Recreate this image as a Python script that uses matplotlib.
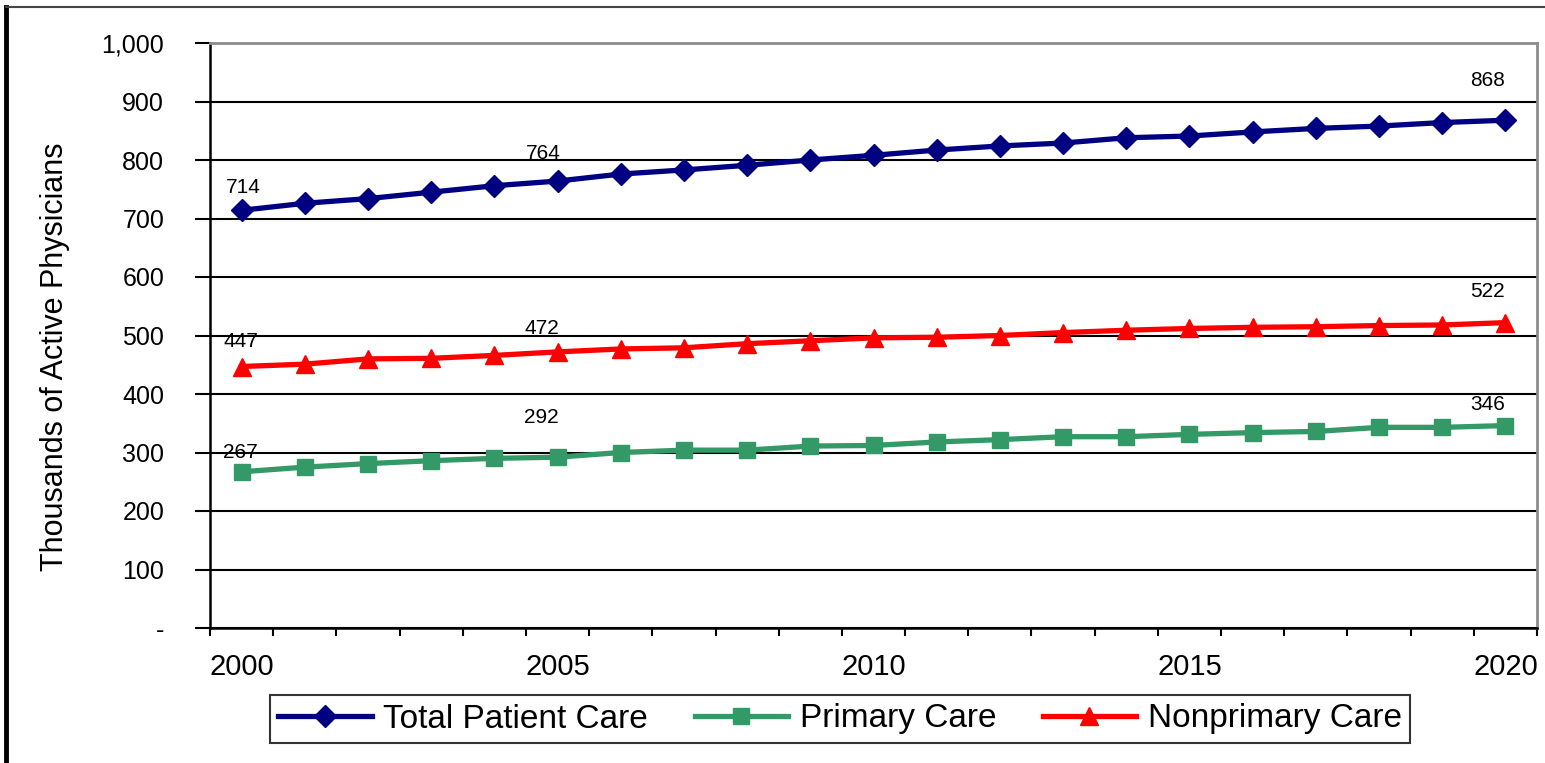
import matplotlib
matplotlib.use("Agg")
import matplotlib.pyplot as plt
from matplotlib.ticker import FixedLocator, FixedFormatter
from matplotlib.lines import Line2D

plt.rcParams['font.family'] = ['Liberation Sans', 'DejaVu Sans']

# Active physicians (thousands), 2000-2020
years = list(range(2000, 2021))
total_patient_care = [714, 726, 734, 745, 756, 764, 776, 783, 791, 800, 808,
                      817, 824, 829, 838, 841, 848, 854, 858, 864, 868]
primary_care = [267, 275, 281, 286, 290, 292, 300, 304, 304, 311, 312,
                318, 322, 327, 327, 331, 334, 336, 343, 343, 346]
nonprimary_care = [447, 451, 460, 461, 466, 472, 477, 479, 486, 491, 496,
                   497, 500, 505, 509, 512, 514, 515, 517, 518, 522]

series_names = ["Total Patient Care", "Primary Care", "Nonprimary Care"]
y_ticks = [0, 100, 200, 300, 400, 500, 600, 700, 800, 900, 1000]
y_tick_labels = ["-", "100", "200", "300", "400", "500", "600", "700", "800", "900", "1,000"]
x_label_years = [2000, 2005, 2010, 2015, 2020]
labelled_idx = [0, 5, 20]

fig = plt.figure(figsize=(15.45, 7.63), dpi=100)
ax = fig.add_axes([210 / 1545, 1 - 628 / 763, 1327 / 1545, 585 / 763])

styles = [
    dict(color="#000080", marker="D", markersize=11),
    dict(color="#339966", marker="s", markersize=12),
    dict(color="#FF0000", marker="^", markersize=13),
]
all_series = [total_patient_care, primary_care, nonprimary_care]
lines = []
for name, vals, st in zip(series_names, all_series, styles):
    ln, = ax.plot(years, vals, lw=3.8, label=name, zorder=3, **st)
    lines.append(ln)

# value labels at the first, fifth and last year (pixel offsets from the point)
offsets = [
    [(2, 23), (-14, 28), (-18, 40)],
    [(-1, 19), (-16, 40), (-18, 21)],
    [(-1, 25), (-16, 23), (-18, 31)],
]
for vals, offs in zip(all_series, offsets):
    for i, (dx, dy) in zip(labelled_idx, offs):
        ax.annotate(f"{vals[i]}", (years[i], vals[i]), xytext=(dx, dy),
                    textcoords="offset pixels", ha="center", va="center",
                    fontsize=15, color="black", zorder=4)

ax.set_xlim(1999.5, 2020.5)
ax.set_ylim(0, 1000)

ax.yaxis.set_major_locator(FixedLocator(y_ticks))
ax.yaxis.set_major_formatter(FixedFormatter(y_tick_labels))
ax.tick_params(axis="y", which="major", length=11, width=1.5, pad=22,
               labelsize=18, direction="out")

ax.xaxis.set_major_locator(FixedLocator(x_label_years))
ax.xaxis.set_major_formatter(FixedFormatter([str(y) for y in x_label_years]))
ax.xaxis.set_minor_locator(FixedLocator([y - 0.5 for y in years] + [years[-1] + 0.5]))
ax.tick_params(axis="x", which="major", length=0, pad=18, labelsize=21)
ax.tick_params(axis="x", which="minor", length=6, width=1.5, direction="out")

ax.grid(axis="y", color="black", lw=1.5, zorder=1)
ax.set_axisbelow(True)
for side in ("left", "bottom"):
    ax.spines[side].set_color("black")
    ax.spines[side].set_linewidth(1.8)
for side in ("top", "right"):
    ax.spines[side].set_color("#8c8c8c")
    ax.spines[side].set_linewidth(2)

fig.text(55 / 1545, 1 - 357 / 763, "Thousands of Active Physicians", rotation=90,
         ha="center", va="center", fontsize=22)

leg = fig.legend(handles=lines, loc="center", ncol=3,
                 bbox_to_anchor=(840 / 1545, 1 - 719 / 763), fontsize=24,
                 frameon=True, fancybox=False, edgecolor="black",
                 handlelength=2.8, handletextpad=0.35, columnspacing=1.4,
                 borderpad=0.25, borderaxespad=0)
leg.get_frame().set_linewidth(1.5)

# outer chart frame: heavy left edge, thin top edge
fig.add_artist(Line2D([6 / 1545, 6 / 1545], [0, 1 - 7 / 763],
                      transform=fig.transFigure, color="black", lw=3.5))
fig.add_artist(Line2D([6 / 1545, 1], [1 - 7 / 763, 1 - 7 / 763],
                      transform=fig.transFigure, color="#444444", lw=1.5))

fig.savefig("out.png", dpi=100, facecolor="white")
